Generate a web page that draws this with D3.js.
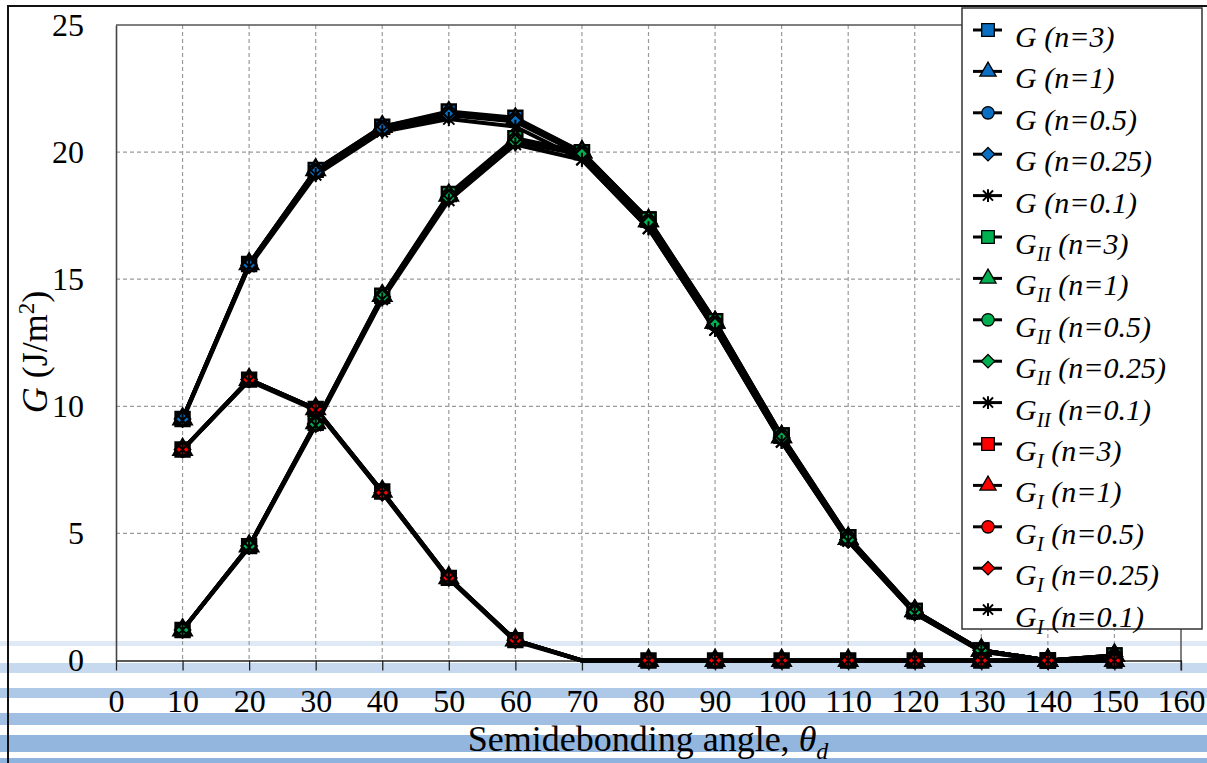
<!DOCTYPE html>
<html>
<head>
<meta charset="utf-8">
<script src="https://cdn.jsdelivr.net/npm/d3@7"></script>
<style>
  body { margin: 0; background: #fff; }
  svg { display: block; }
  text { font-family: "Liberation Serif", "Times New Roman", serif; fill: #000; }
</style>
</head>
<body>
<svg id="chart" width="1207" height="763"></svg>
<script>
// semidebonding angle (deg)
const angles = [10, 20, 30, 40, 50, 60, 70, 80, 90, 100, 110, 120, 130, 140, 150];
const xTicks = [0, 10, 20, 30, 40, 50, 60, 70, 80, 90, 100, 110, 120, 130, 140, 150, 160];
const yTicks = [0, 5, 10, 15, 20, 25];
const nLabels = ['3', '1', '0.5', '0.25', '0.1'];

// total G
const G_n3   = [9.5, 15.6, 19.3, 21.0, 21.6, 21.35, 20.0, 17.35, 13.35, 8.85, 4.85, 1.95, 0.4, 0.0, 0.2];
const G_n1   = [9.5, 15.6, 19.3, 21.0, 21.55, 21.3, 20.0, 17.3, 13.3, 8.8, 4.8, 1.95, 0.4, 0.0, 0.2];
const G_n05  = [9.5, 15.6, 19.25, 20.95, 21.5, 21.25, 19.95, 17.25, 13.25, 8.8, 4.8, 1.9, 0.4, 0.0, 0.15];
const G_n025 = [9.5, 15.55, 19.2, 20.9, 21.45, 21.2, 19.9, 17.2, 13.2, 8.75, 4.75, 1.9, 0.4, 0.0, 0.15];
const G_n01  = [9.45, 15.5, 19.1, 20.8, 21.3, 21.0, 19.7, 17.0, 13.0, 8.6, 4.7, 1.85, 0.35, 0.0, 0.1];

// mode II
const GII_n3   = [1.2, 4.5, 9.35, 14.35, 18.35, 20.55, 20.0, 17.35, 13.35, 8.85, 4.85, 1.95, 0.4, 0.0, 0.2];
const GII_n1   = [1.2, 4.5, 9.35, 14.35, 18.3, 20.5, 20.0, 17.3, 13.3, 8.8, 4.8, 1.95, 0.4, 0.0, 0.2];
const GII_n05  = [1.2, 4.5, 9.3, 14.3, 18.25, 20.45, 19.95, 17.25, 13.25, 8.8, 4.8, 1.9, 0.4, 0.0, 0.15];
const GII_n025 = [1.2, 4.5, 9.3, 14.3, 18.2, 20.4, 19.9, 17.2, 13.2, 8.75, 4.75, 1.9, 0.4, 0.0, 0.15];
const GII_n01  = [1.2, 4.45, 9.25, 14.2, 18.1, 20.3, 19.7, 17.0, 13.0, 8.6, 4.7, 1.85, 0.35, 0.0, 0.1];

// mode I
const GI_n3   = [8.3, 11.05, 9.9, 6.65, 3.25, 0.8, 0, 0, 0, 0, 0, 0, 0, 0, 0];
const GI_n1   = [8.3, 11.05, 9.9, 6.65, 3.25, 0.8, 0, 0, 0, 0, 0, 0, 0, 0, 0];
const GI_n05  = [8.3, 11.05, 9.9, 6.65, 3.25, 0.8, 0, 0, 0, 0, 0, 0, 0, 0, 0];
const GI_n025 = [8.3, 11.05, 9.9, 6.6, 3.25, 0.8, 0, 0, 0, 0, 0, 0, 0, 0, 0];
const GI_n01  = [8.3, 11.0, 9.85, 6.6, 3.2, 0.75, 0, 0, 0, 0, 0, 0, 0, 0, 0];
const GI_unmarked = [70];

const groups = [
  { sub: '',   color: '#0a6fc2', values: [G_n3, G_n1, G_n05, G_n025, G_n01], skip: [] },
  { sub: 'II', color: '#00b050', values: [GII_n3, GII_n1, GII_n05, GII_n025, GII_n01], skip: [] },
  { sub: 'I',  color: '#ff0000', values: [GI_n3, GI_n1, GI_n05, GI_n025, GI_n01], skip: GI_unmarked }
];

const series = [];
groups.forEach(g => {
  g.values.forEach((vals, i) => {
    series.push({
      sub: g.sub, color: g.color, n: nLabels[i], shape: i, skip: g.skip,
      points: angles.map((a, j) => [a, vals[j]])
    });
  });
});

const svg = d3.select('#chart');

const x = d3.scaleLinear().domain([0, 160]).range([116, 1181]);
const y = d3.scaleLinear().domain([0, 25]).range([660.5, 25]);

// pale blue bands across the bottom
const bands = [[641, 5, '#e0eaf6'], [663, 10, '#c6d9ef'], [688, 10, '#aec8e7'],
               [713, 12, '#a0bfe3'], [735, 17, '#93b6df'], [758, 6, '#8eb3de']];
svg.selectAll('rect.band')
  .data(bands)
  .enter()
  .append('rect')
  .attr('class', 'band')
  .attr('x', 0)
  .attr('y', d => d[0])
  .attr('width', 1207)
  .attr('height', d => d[1])
  .attr('fill', d => d[2]);

// outer frame (left + top)
svg.append('path')
  .attr('d', 'M8,763V6H1207')
  .attr('fill', 'none')
  .attr('stroke', '#111')
  .attr('stroke-width', 2);

// grid
svg.append('g')
  .selectAll('line')
  .data(xTicks.filter(t => t > 0 && t < 160))
  .enter()
  .append('line')
  .attr('x1', d => x(d)).attr('x2', d => x(d))
  .attr('y1', y(25)).attr('y2', y(0))
  .attr('stroke', '#9a9a9a')
  .attr('stroke-width', 1.2)
  .attr('stroke-dasharray', '4,3');

svg.append('g')
  .selectAll('line')
  .data(yTicks.filter(t => t > 0 && t < 25))
  .enter()
  .append('line')
  .attr('x1', x(0)).attr('x2', x(160))
  .attr('y1', d => y(d)).attr('y2', d => y(d))
  .attr('stroke', '#9a9a9a')
  .attr('stroke-width', 1.2)
  .attr('stroke-dasharray', '4,3');

// plot border (top + right)
svg.append('path')
  .attr('d', `M${x(0)},${y(25)}H${x(160)}V${y(0) + 10}`)
  .attr('fill', 'none')
  .attr('stroke', '#555')
  .attr('stroke-width', 1.5);

// axes
const xAxis = svg.append('g')
  .attr('transform', `translate(0, ${y(0)})`)
  .call(d3.axisBottom(x).tickValues(xTicks).tickSize(10).tickSizeOuter(0).tickPadding(19));
xAxis.select('.domain').attr('stroke', '#222').attr('stroke-width', 1.5);
xAxis.selectAll('.tick line').attr('stroke', '#222').attr('stroke-width', 1.3);
xAxis.selectAll('text').style('font-size', '32px');

const yAxis = svg.append('g')
  .attr('transform', `translate(${x(0)}, 0)`)
  .call(d3.axisLeft(y).tickValues(yTicks).tickSize(0).tickSizeOuter(0).tickPadding(32));
yAxis.select('.domain').attr('stroke', '#444').attr('stroke-width', 1.6);
yAxis.selectAll('text').style('font-size', '32px');

// axis titles
const yTitle = svg.append('text')
  .attr('transform', 'translate(47, 352) rotate(-90)')
  .attr('text-anchor', 'middle')
  .style('font-size', '36px');
yTitle.append('tspan').style('font-style', 'italic').text('G');
yTitle.append('tspan').text(' (J/m');
yTitle.append('tspan').attr('dy', -13).style('font-size', '23px').text('2');
yTitle.append('tspan').attr('dy', 13).text(')');

const xTitle = svg.append('text')
  .attr('x', 648)
  .attr('y', 751)
  .attr('text-anchor', 'middle')
  .style('font-size', '36px');
xTitle.append('tspan').text('Semidebonding angle, ');
xTitle.append('tspan').style('font-style', 'italic').text('θ');
xTitle.append('tspan').attr('dy', 8).style('font-style', 'italic').style('font-size', '24px').text('d');

// marker shapes
const asterisk = r => `M0,${-r}V${r}M${-r * 0.8},${-r * 0.8}L${r * 0.8},${r * 0.8}M${-r * 0.8},${r * 0.8}L${r * 0.8},${-r * 0.8}`;
const diamond = r => `M0,${-r}L${r},0L0,${r}L${-r},0Z`;
const shapePath = (shape, scale) => {
  if (shape === 0) return d3.symbol(d3.symbolSquare, 196 * scale * scale)();
  if (shape === 1) return d3.symbol(d3.symbolTriangle, 140 * scale * scale)();
  if (shape === 2) return d3.symbol(d3.symbolCircle, 150 * scale * scale)();
  if (shape === 3) return diamond(7.5 * scale);
  return asterisk(7 * scale);
};

// lines
const line = d3.line().x(d => x(d[0])).y(d => y(d[1]));
svg.append('g')
  .selectAll('path')
  .data(series)
  .enter()
  .append('path')
  .attr('d', d => line(d.points))
  .attr('fill', 'none')
  .attr('stroke', '#000')
  .attr('stroke-width', 4)
  .attr('stroke-linejoin', 'round');

series.forEach(s => {
  svg.append('g')
    .selectAll('path')
    .data(s.points.filter(p => !s.skip.includes(p[0])))
    .enter()
    .append('path')
    .attr('transform', d => `translate(${x(d[0])}, ${y(d[1])})`)
    .attr('d', shapePath(s.shape, 1))
    .attr('fill', s.shape === 4 ? 'none' : s.color)
    .attr('stroke', '#000')
    .attr('stroke-width', s.shape === 4 ? 2 : 2.4);
});

// legend
const legend = svg.append('g').attr('transform', 'translate(962, 8)');
legend.append('rect')
  .attr('width', 240)
  .attr('height', 621)
  .attr('fill', '#fff')
  .attr('stroke', '#333')
  .attr('stroke-width', 1.5);

const item = legend.selectAll('g.item')
  .data(series)
  .enter()
  .append('g')
  .attr('class', 'item')
  .attr('transform', (d, i) => `translate(0, ${22 + i * 41.4})`);

item.append('line')
  .attr('x1', 11).attr('x2', 40)
  .attr('stroke', '#000')
  .attr('stroke-width', 3);

item.append('path')
  .attr('transform', 'translate(26, 0)')
  .attr('d', d => shapePath(d.shape, 0.9))
  .attr('fill', d => d.shape === 4 ? 'none' : d.color)
  .attr('stroke', '#000')
  .attr('stroke-width', d => d.shape === 4 ? 2 : 1.3);

const label = item.append('text')
  .attr('x', 53)
  .attr('y', 17)
  .style('font-size', '30px')
  .style('font-style', 'italic');
label.append('tspan').text('G');
label.filter(d => d.sub !== '')
  .append('tspan')
  .attr('dy', 7)
  .style('font-size', '21px')
  .text(d => d.sub);
label.append('tspan')
  .attr('dy', d => d.sub !== '' ? -7 : 0)
  .text(d => ` (n=${d.n})`);
</script>
</body>
</html>
